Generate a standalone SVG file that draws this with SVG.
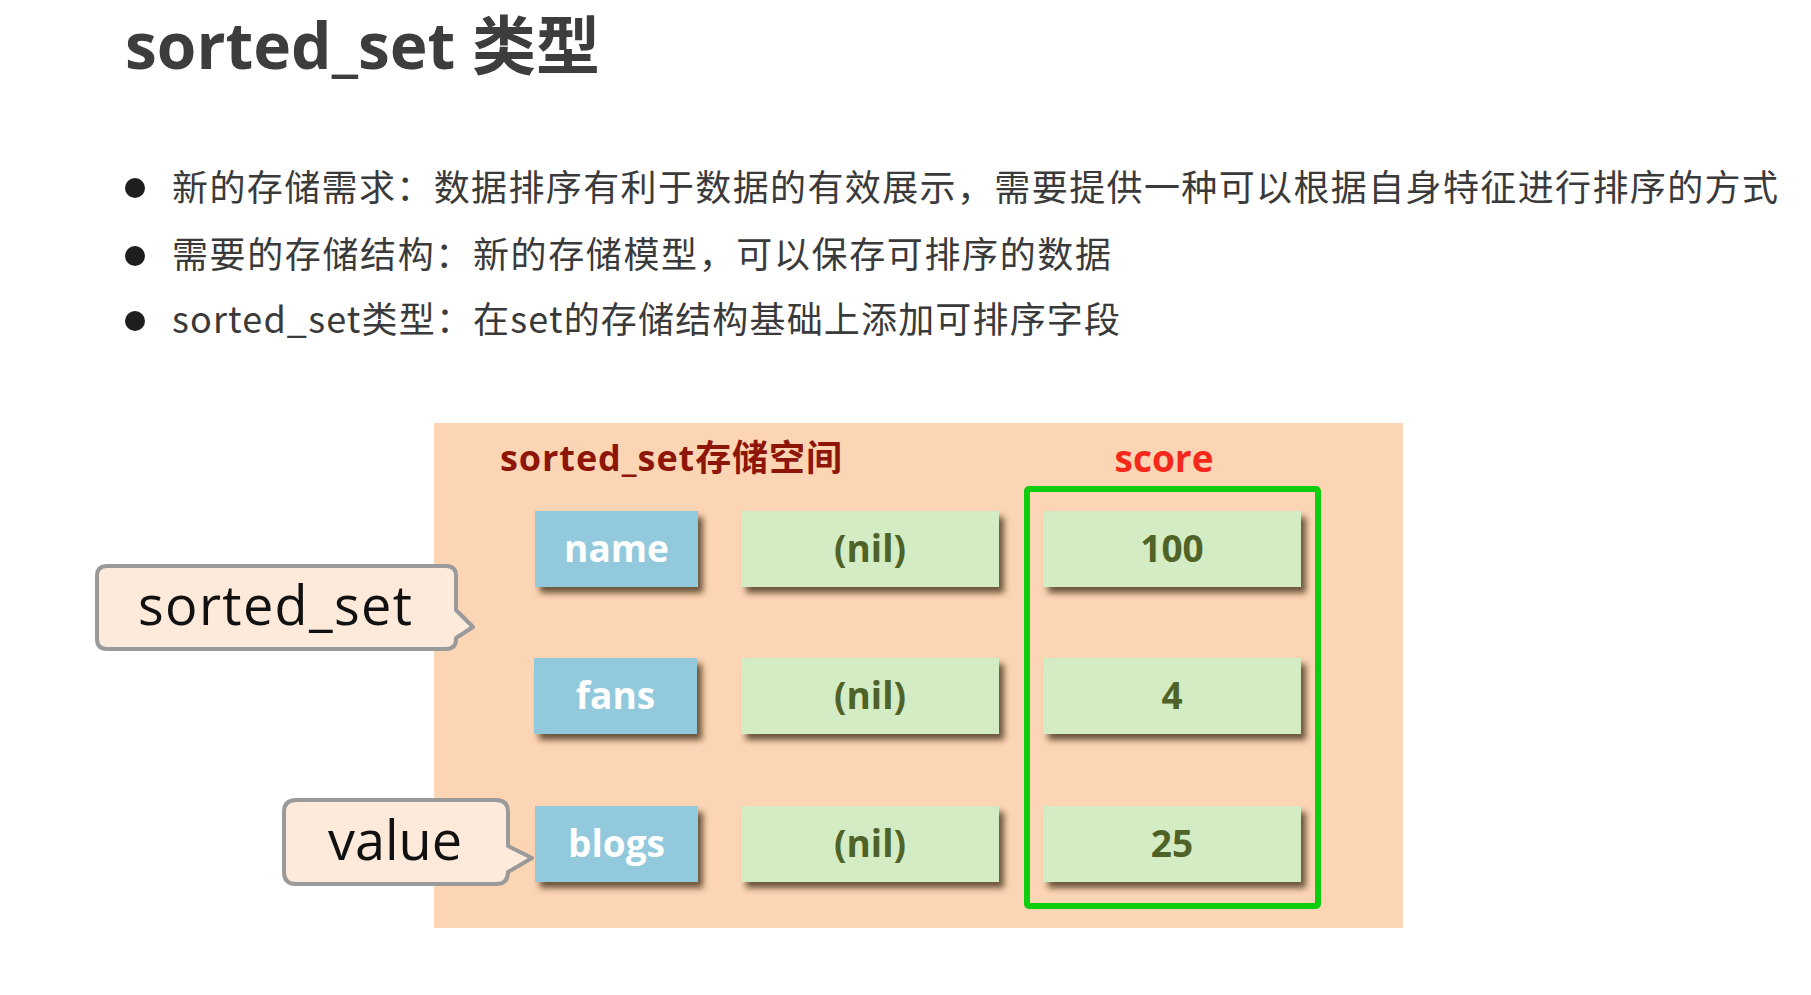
<svg xmlns="http://www.w3.org/2000/svg" width="1811" height="995" viewBox="0 0 1811 995">
  <defs>
    <filter id="shadow" x="-10%" y="-10%" width="125%" height="135%">
      <feDropShadow dx="5" dy="6" stdDeviation="3" flood-color="#3a2818" flood-opacity="0.75"/>
    </filter>
  </defs>
  <style>
    .title { font-family: "Open Sans", "Noto Sans CJK SC", sans-serif; font-weight: 700; font-size: 64px; fill: #3d3d3d; }
    .bullet { font-family: "Noto Sans CJK SC", "Noto Sans", sans-serif; font-weight: 400; font-size: 36px; fill: #3a3a3a; }
    .dot { fill: #1e1e1e; }
    .key { fill: #92C9DC; filter: url(#shadow); }
    .val { fill: #D4ECC3; filter: url(#shadow); }
    .keytxt { font-family: "Open Sans", sans-serif; font-weight: 700; font-size: 37px; fill: #ffffff; text-anchor: middle; }
    .valtxt { font-family: "Open Sans", sans-serif; font-weight: 700; font-size: 37px; fill: #4F6228; text-anchor: middle; }
    .callout { fill: #FDEADA; stroke: #9a9a9a; stroke-width: 4; stroke-linejoin: round; }
    .calltxt { font-family: "Open Sans", sans-serif; font-weight: 400; font-size: 54px; fill: #111111; }
  </style>

  <g id="title">
    <text class="title" x="125" y="69" textLength="475">sorted_set 类型</text>
  </g>

  <g id="bullets">
    <circle class="dot" cx="135" cy="188" r="10"/>
    <text class="bullet" x="172" y="201" textLength="1606">新的存储需求：数据排序有利于数据的有效展示，需要提供一种可以根据自身特征进行排序的方式</text>
    <circle class="dot" cx="135" cy="256" r="10"/>
    <text class="bullet" x="172" y="268" textLength="939">需要的存储结构：新的存储模型，可以保存可排序的数据</text>
    <circle class="dot" cx="135" cy="321" r="10"/>
    <text class="bullet" x="172" y="333" textLength="948">sorted_set类型：在set的存储结构基础上添加可排序字段</text>
  </g>

  <g id="storage-panel">
    <rect x="434" y="423" width="969" height="505" fill="#FCD5B4"/>
    <text x="500" y="471" textLength="342" font-family="'Open Sans', 'Noto Sans CJK SC', sans-serif" font-weight="700" font-size="36" fill="#8E1608">sorted_set存储空间</text>
    <text x="1164" y="472" text-anchor="middle" font-family="'Open Sans', sans-serif" font-weight="700" font-size="37" fill="#F5291B">score</text>
  </g>

  <g id="score-frame">
    <rect x="1027" y="489" width="291" height="417" rx="2" fill="none" stroke="#0ECC0E" stroke-width="6"/>
  </g>

  <g id="row-name">
    <rect class="key" x="535" y="511" width="163" height="76"/>
    <text class="keytxt" x="616.5" y="562">name</text>
    <rect class="val" x="741" y="511" width="258" height="76"/>
    <text class="valtxt" x="870" y="562">(nil)</text>
    <rect class="val" x="1043" y="511" width="258" height="76"/>
    <text class="valtxt" x="1172" y="562">100</text>
  </g>

  <g id="row-fans">
    <rect class="key" x="534" y="658" width="163" height="76"/>
    <text class="keytxt" x="615.5" y="709">fans</text>
    <rect class="val" x="741" y="658" width="258" height="76"/>
    <text class="valtxt" x="870" y="709">(nil)</text>
    <rect class="val" x="1043" y="658" width="258" height="76"/>
    <text class="valtxt" x="1172" y="709">4</text>
  </g>

  <g id="row-blogs">
    <rect class="key" x="535" y="806" width="163" height="76"/>
    <text class="keytxt" x="616.5" y="857">blogs</text>
    <rect class="val" x="741" y="806" width="258" height="76"/>
    <text class="valtxt" x="870" y="857">(nil)</text>
    <rect class="val" x="1043" y="806" width="258" height="76"/>
    <text class="valtxt" x="1172" y="857">25</text>
  </g>

  <g id="callout-sorted-set">
    <path class="callout" d="M107,566 H446 Q456,566 456,576 V610 L473,627 L456,638 V639 Q456,649 446,649 H107 Q97,649 97,639 V576 Q97,566 107,566 Z"/>
    <text class="calltxt" x="138" y="625" textLength="274">sorted_set</text>
  </g>

  <g id="callout-value">
    <path class="callout" d="M296,800 H496 Q508,800 508,812 V846 L532,858 L508,872 Q508,884 496,884 H296 Q284,884 284,872 V812 Q284,800 296,800 Z"/>
    <text class="calltxt" x="328" y="860" textLength="134">value</text>
  </g>

  <g id="connectors"></g>
</svg>
